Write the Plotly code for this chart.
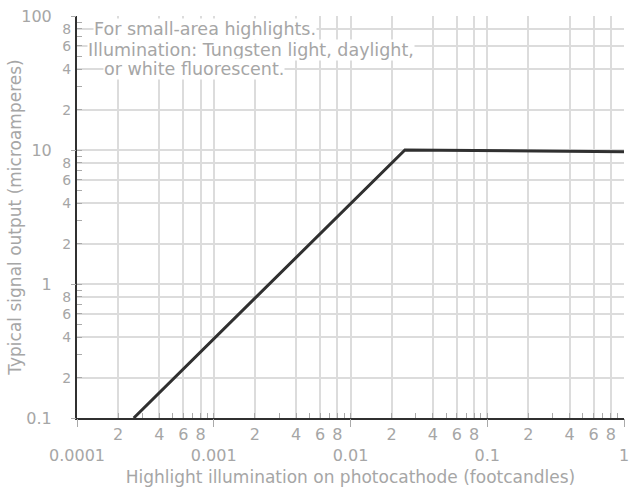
import plotly.graph_objects as go

# data
illum = [0.00026, 0.025, 1.0]          # footcandles
signal = [0.1, 10.0, 9.7]              # microamperes

x_decades = [0.0001, 0.001, 0.01, 0.1, 1]
x_decade_labels = ["0.0001", "0.001", "0.01", "0.1", "1"]
y_decades = [0.1, 1, 10, 100]
y_decade_labels = ["0.1", "1", "10", "100"]
minor_labeled = [2, 4, 6, 8]
minor_unlabeled = [3, 5, 7, 9]

notes = ["For small-area highlights.",
         "Illumination: Tungsten light, daylight,",
         "or white fluorescent."]

def minor_vals(decades, mults):
    out = []
    for d in decades[:-1]:
        for m in mults:
            out.append(d * m)
    return out

x_minor = minor_vals(x_decades, minor_labeled)
x_minor_txt = [str(m) for _ in x_decades[:-1] for m in minor_labeled]
y_minor = minor_vals(y_decades, minor_labeled)
y_minor_txt = [str(m) for _ in y_decades[:-1] for m in minor_labeled]
x_small = minor_vals(x_decades, minor_unlabeled)
y_small = minor_vals(y_decades, minor_unlabeled)

FONT = "DejaVu Sans"
TXT = "#a6a6a6"
GRID = "#dcdcdc"
DARK = "#303030"

fig = go.Figure()
fig.add_trace(go.Scatter(x=illum, y=signal, mode="lines",
                         line=dict(color=DARK, width=3), showlegend=False,
                         hoverinfo="skip"))
# empty traces so that the overlaid label axes are drawn
fig.add_trace(go.Scatter(x=[], y=[], xaxis="x2", yaxis="y", mode="lines",
                         showlegend=False, hoverinfo="skip"))
fig.add_trace(go.Scatter(x=[], y=[], xaxis="x", yaxis="y2", mode="lines",
                         showlegend=False, hoverinfo="skip"))

fig.update_layout(
    width=631, height=487,
    margin=dict(l=77, r=7, t=16, b=69, autoexpand=False),
    paper_bgcolor="white", plot_bgcolor="white",
    font=dict(family=FONT, color=TXT, size=16),
    showlegend=False,
    xaxis=dict(
        type="log", range=[-4, 0], automargin=False,
        tickmode="array",
        tickvals=x_minor + x_decades,
        ticktext=x_minor_txt + [""] * len(x_decades),
        ticks="inside", ticklen=5, tickcolor="#aaaaaa", tickwidth=1,
        ticklabelstandoff=1,
        tickfont=dict(family=FONT, size=16, color=TXT),
        showgrid=True, gridcolor=GRID, gridwidth=1.5,
        showline=True, linecolor=DARK, linewidth=2,
        zeroline=False,
        minor=dict(tickvals=x_small, ticks="inside", ticklen=5,
                   tickcolor="#aaaaaa", showgrid=False),
        title=dict(text="Highlight illumination on photocathode (footcandles)",
                   font=dict(family=FONT, size=17, color=TXT), standoff=29),
    ),
    xaxis2=dict(
        type="log", range=[-4, 0], overlaying="x", anchor="y", side="bottom",
        automargin=False,
        tickmode="array", tickvals=x_decades, ticktext=x_decade_labels,
        ticks="outside", ticklen=8, tickcolor="#aaaaaa", tickwidth=1,
        ticklabelstandoff=15,
        tickfont=dict(family=FONT, size=16, color=TXT),
        showgrid=False, showline=False, zeroline=False,
    ),
    yaxis=dict(
        type="log", range=[-1, 2], automargin=False,
        tickmode="array",
        tickvals=y_minor + y_decades,
        ticktext=y_minor_txt + [""] * len(y_decades),
        ticks="inside", ticklen=5, tickcolor="#aaaaaa", tickwidth=1,
        ticklabelstandoff=1,
        tickfont=dict(family=FONT, size=14, color=TXT),
        showgrid=True, gridcolor=GRID, gridwidth=1.5,
        showline=True, linecolor=DARK, linewidth=2,
        zeroline=False,
        minor=dict(tickvals=y_small, ticks="inside", ticklen=5,
                   tickcolor="#aaaaaa", showgrid=False),
        title=dict(text="Typical signal output (microamperes)",
                   font=dict(family=FONT, size=17, color=TXT), standoff=36),
    ),
    yaxis2=dict(
        type="log", range=[-1, 2], overlaying="y", anchor="x", side="left",
        automargin=False,
        tickmode="array", tickvals=y_decades, ticktext=y_decade_labels,
        ticks="outside", ticklen=5, tickcolor="#aaaaaa", tickwidth=1,
        ticklabelstandoff=16,
        tickfont=dict(family=FONT, size=16, color=TXT),
        showgrid=False, showline=False, zeroline=False,
    ),
)

note_pos = [(0.029, 0.968), (0.018, 0.915), (0.0475, 0.868)]
for txt, (px, py) in zip(notes, note_pos):
    fig.add_annotation(text=txt, xref="paper", yref="paper", x=px, y=py,
                       xanchor="left", yanchor="middle", showarrow=False,
                       bgcolor="white", borderpad=0,
                       font=dict(family=FONT, size=17.5, color=TXT))

fig.write_html("out.html", config={"displayModeBar": False},
               post_script="document.body.style.margin='0px';")
